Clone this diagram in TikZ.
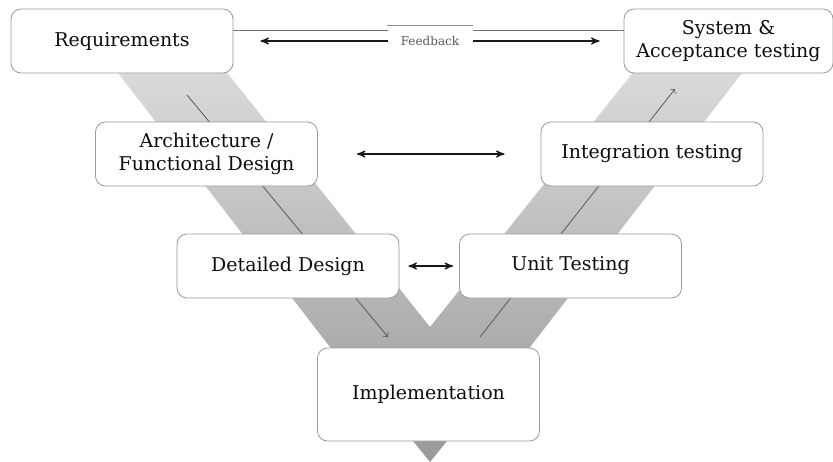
\documentclass[tikz,border=0pt]{standalone}
\usepackage{fontspec}
\setmainfont{DejaVu Serif}
\usepackage{tikz}
\usetikzlibrary{arrows,calc}

\begin{document}
\begin{tikzpicture}[x=0.5pt,y=-0.5pt,>=stealth']
            \tikzstyle{phase}=[draw=black!40, fill=white, rounded corners=5pt,
            text=black!95, font=\fontsize{9.5}{11.5}\selectfont, align=center,
            minimum width=111pt, minimum height=32pt, inner sep=2pt]
            \tikzstyle{link}=[<->, draw=black!90, line width=0.6pt]
            \tikzstyle{flow}=[-to, draw=black!65, line width=0.4pt]
            \tikzstyle{fblabel}=[fill=white, text=black!65, inner sep=0pt,
            font=\fontsize{6}{7}\selectfont, minimum width=42.5pt, minimum height=15pt]
            \useasboundingbox (0,0) rectangle (833,461);
            % the V behind the boxes
            \shade[top color=black!14, bottom color=black!40]
                  (108,60) -- (340,360) -- (413,441) -- (430,462) -- (447,441)
                  -- (520,360) -- (752,60) -- (643,60) -- (430,327) -- (217,60) -- cycle;
            \coordinate (L1) at (187,95);
            \coordinate (L2) at (388,337);
            \coordinate (R1) at (480,337);
            \coordinate (R2) at (675,89);
            \draw[flow] (L1) -- (L2);
            \draw[flow] (R1) -- (R2);
            %  req                      sys
            %      arch            integ
            %          det     unit
            %              impl
            \node[phase] (req) at (122,41) {Requirements};
            \node[phase] (arch) at (206.5,154) {Architecture /\\Functional Design};
            \node[phase] (det) at (288,266) {Detailed Design};
            \node[phase, minimum height=46.5pt] (impl) at (428.5,394.5) {Implementation};
            \node[phase] (unit) at (570.5,266) {Unit Testing};
            \node[phase] (integ) at (652,154) {Integration testing};
            \node[phase, minimum width=104.5pt] (sys) at (728.5,41) {System \&\\Acceptance testing};
            % feedback
            \draw[black!55, line width=0.4pt] ([yshift=5.5pt]req.east) -- ([yshift=5.5pt]sys.west);
            \draw[link] ([xshift=13.5pt]req.east) -- node[fblabel] (fb) {Feedback} ([xshift=-12pt]sys.west);
            \draw[black!45, line width=0.4pt] (fb.north west) -- (fb.north east);
            \draw[link, shorten <=19.5pt, shorten >=18pt] (arch) -- (integ);
            \draw[link, shorten <=4.5pt, shorten >=3pt] (det) -- (unit);
\end{tikzpicture}
\end{document}
